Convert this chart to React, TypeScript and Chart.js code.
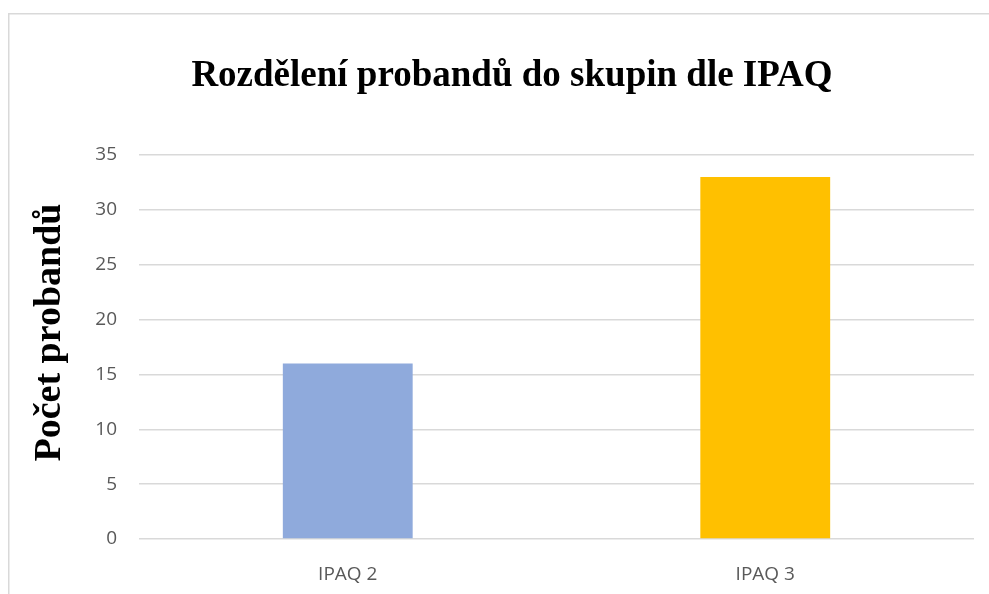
import React, { useEffect, useRef } from "react";
import { Chart, registerables } from "chart.js";

Chart.register(...registerables);

const categories = ["IPAQ 2", "IPAQ 3"];
const counts = [16, 33];
const barColors = ["#8FAADC", "#FFC000"];
const chartTitle = "Rozdělení probandů do skupin dle IPAQ";
const yAxisTitle = "Počet probandů";

const SERIF = "'Liberation Serif', 'Times New Roman', serif";

const framePlugin = {
  id: "frame",
  beforeDraw(chart: any) {
    const ctx = chart.ctx;
    ctx.save();
    ctx.fillStyle = "#ffffff";
    ctx.fillRect(0, 0, chart.width, chart.height);
    ctx.strokeStyle = "#D9D9D9";
    ctx.lineWidth = 1.5;
    ctx.beginPath();
    ctx.moveTo(8.75, chart.height + 2);
    ctx.lineTo(8.75, 13.75);
    ctx.lineTo(chart.width + 2, 13.75);
    ctx.stroke();
    ctx.restore();
  },
  afterDraw(chart: any) {
    const ctx = chart.ctx;
    ctx.save();
    ctx.fillStyle = "#000000";
    ctx.font = `bold 37px ${SERIF}`;
    ctx.textAlign = "center";
    ctx.textBaseline = "alphabetic";
    ctx.fillText(chartTitle, 512, 86);
    ctx.restore();

    ctx.save();
    ctx.translate(60, 332.5);
    ctx.rotate(-Math.PI / 2);
    ctx.fillStyle = "#000000";
    ctx.font = `bold 38px ${SERIF}`;
    ctx.textAlign = "center";
    ctx.textBaseline = "alphabetic";
    ctx.fillText(yAxisTitle, 0, 0);
    ctx.restore();
  },
};

export default function App() {
  const ref = useRef<HTMLCanvasElement | null>(null);
  useEffect(() => {
    if (!ref.current) return;
    const chart = new Chart(ref.current, {
      type: "bar",
      data: {
        labels: categories,
        datasets: [
          {
            data: counts,
            backgroundColor: barColors,
            borderWidth: 0,
            categoryPercentage: 1,
            barPercentage: 0.311,
          },
        ],
      },
      options: {
        animation: false,
        responsive: false,
        devicePixelRatio: 1,
        layout: { padding: { left: 20, right: 15, top: 155, bottom: 0 } },
        plugins: {
          legend: { display: false },
          tooltip: { enabled: false },
          title: { display: false },
        },
        scales: {
          x: {
            grid: { display: false, drawTicks: false },
            border: { display: false },
            ticks: {
              color: "#595959",
              font: { family: "'Open Sans', sans-serif", size: 19 },
              padding: 24,
            },
            afterFit(scale: any) {
              scale.height = 55;
            },
          },
          y: {
            min: 0,
            max: 35,
            grid: { color: "#D9D9D9", lineWidth: 1.5, drawTicks: false },
            border: { display: false },
            ticks: {
              stepSize: 5,
              color: "#595959",
              font: { family: "'Open Sans', sans-serif", size: 19 },
              padding: 22,
            },
            afterFit(scale: any) {
              scale.width = 119;
            },
          },
        },
      },
      plugins: [framePlugin],
    });
    return () => chart.destroy();
  }, []);
  return (
    <div style={{ position: "fixed", left: 0, top: 0, width: 989, height: 594, background: "#fff" }}>
      <canvas ref={ref} width={989} height={594} style={{ display: "block", width: 989, height: 594 }} />
    </div>
  );
}
